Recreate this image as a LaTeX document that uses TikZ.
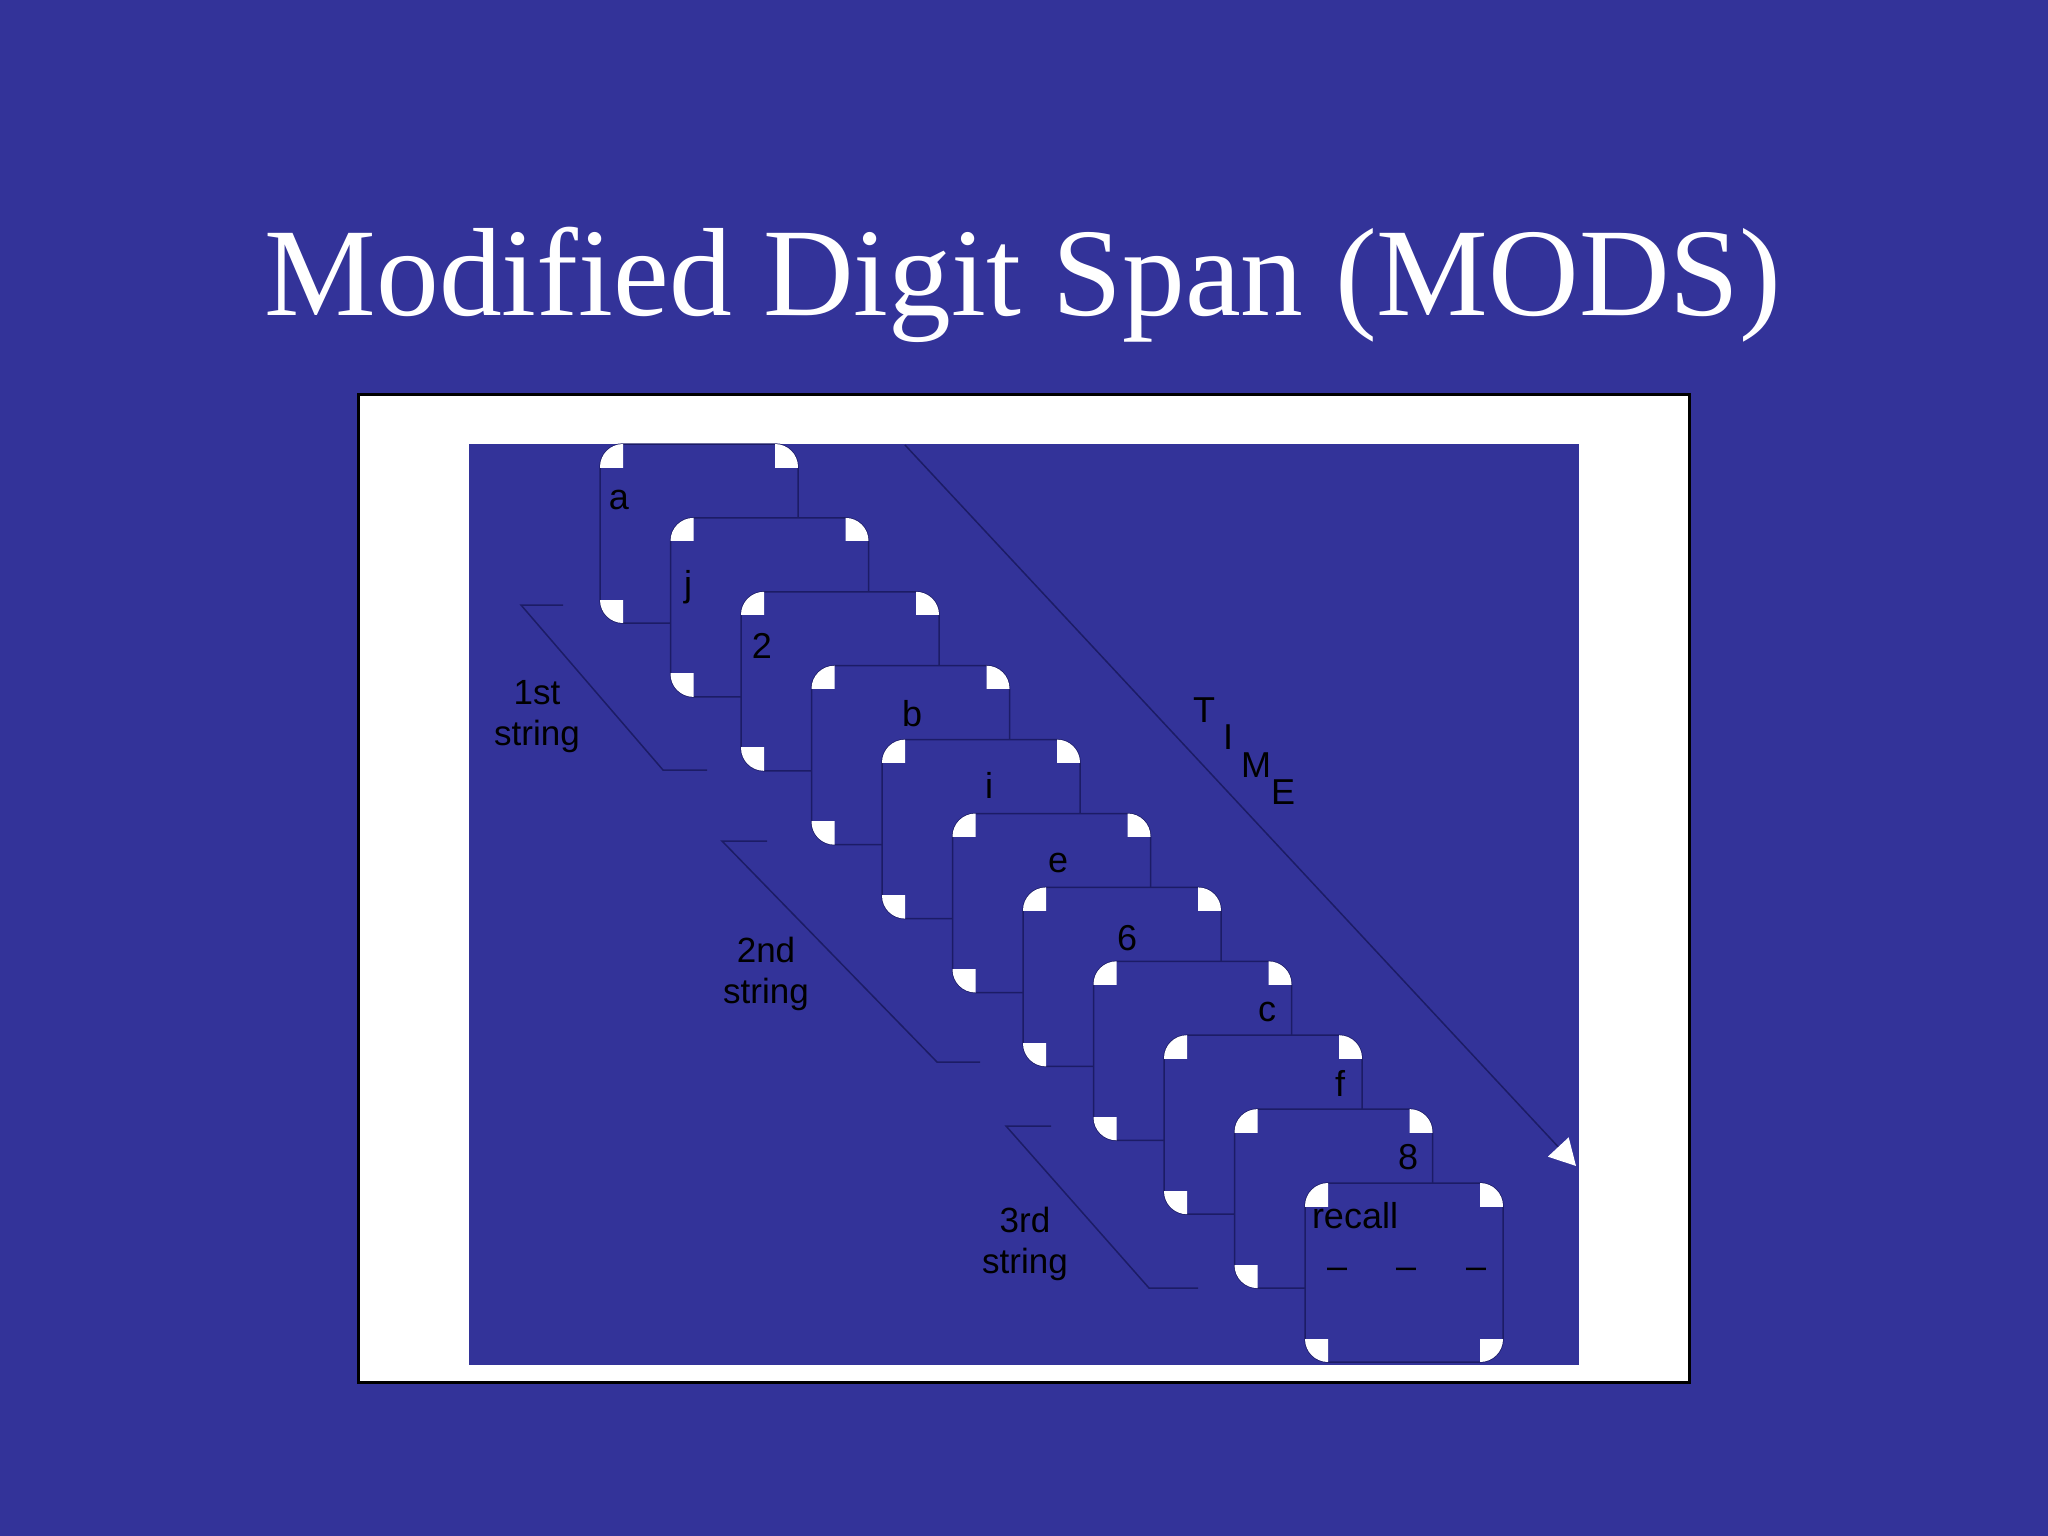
\documentclass[tikz,border=0pt]{standalone}
\usepackage{fontspec}
\setmainfont{Liberation Serif}
\newfontfamily\arialfont{Liberation Sans}
\usetikzlibrary{arrows.meta}
\definecolor{slideblue}{HTML}{333399}
\definecolor{edgenavy}{HTML}{1C1C66}
\tikzset{
  cardbox/.style={draw=edgenavy, line width=1.5pt, fill=slideblue, rounded corners=23pt},
  thinline/.style={draw=edgenavy, line width=1.5pt},
  lbl/.style={font=\arialfont\fontsize{36}{40}\selectfont, text=black, inner sep=0pt, anchor=base},
  strlbl/.style={font=\arialfont\fontsize{35}{41}\selectfont, text=black, inner sep=0pt, align=center},
  titlestyle/.style={font=\fontsize{125.5}{140}\selectfont, text=white, inner sep=0pt, anchor=base}
}
\begin{document}
\begin{tikzpicture}[x=1pt,y=-1pt]
\useasboundingbox (0,0) rectangle (2048,1536);
\fill[slideblue] (0,0) rectangle (2048,1536);
% title
\node[titlestyle] (title) at (1023,315) {Modified Digit Span (MODS)};
% white frame and inner panel
\draw[fill=white, draw=black, line width=3pt] (358,394) rectangle (1689,1382);
\fill[slideblue] (469,444) rectangle (1579,1365);
% string brackets
\draw[thinline] (563,605) -- (521,605) -- (663,770) -- (707,770);
\draw[thinline] (767,841) -- (722,841) -- (937,1062) -- (980,1062);
\draw[thinline] (1051,1126) -- (1006,1126) -- (1149,1288) -- (1198,1288);
% TIME arrow
\coordinate (tstart) at (905,445);
\coordinate (tend) at (1576,1166);
\draw[thinline, -{Triangle[length=26pt,width=28pt,color=white]}] (tstart) -- (tend);
% cards
\foreach \i in {0,...,10} {
  \pgfmathsetmacro\cx{600+70.5*\i}
  \pgfmathsetmacro\cy{444+73.9*\i}
  \draw[cardbox] (\cx,\cy) rectangle ++(198,179);
  \begin{scope}
    \clip (\cx,\cy) rectangle ++(23,23);
    \fill[white] (\cx+23,\cy+23) circle (23);
  \end{scope}
  \begin{scope}
    \clip (\cx+175,\cy) rectangle ++(23,23);
    \fill[white] (\cx+175,\cy+23) circle (23);
  \end{scope}
  \begin{scope}
    \clip (\cx,\cy+156) rectangle ++(23,23);
    \fill[white] (\cx+23,\cy+156) circle (23);
  \end{scope}
  \begin{scope}
    \clip (\cx+175,\cy+156) rectangle ++(23,23);
    \fill[white] (\cx+175,\cy+156) circle (23);
  \end{scope}
  % labels drawn right after each card so that later cards cover them
  \ifcase\i
    \node[lbl] (la) at (619,509) {a};
  \or
    \node[lbl] (lj) at (688,596) {j};
  \or
    \node[lbl] (l2) at (762,658) {2};
  \or
    \node[lbl] (lb) at (912,726) {b};
  \or
    \node[lbl] (li) at (989,798) {i};
  \or
    \node[lbl] (le) at (1058,872) {e};
  \or
    \node[lbl] (l6) at (1127,950) {6};
  \or
    \node[lbl] (lc) at (1267,1021) {c};
  \or
    \node[lbl] (lf) at (1340,1096) {f};
  \or
    \node[lbl] (l8) at (1408,1169) {8};
  \or
    \node[lbl] (lrecall) at (1355,1228) {recall};
    \node[lbl] (d1) at (1337,1278) {–};
    \node[lbl] (d2) at (1406,1278) {–};
    \node[lbl] (d3) at (1476,1278) {–};
  \fi
}
% TIME letters
\node[lbl] (tT) at (1204,722) {T};
\node[lbl] (tI) at (1228,749) {I};
\node[lbl] (tM) at (1256,777) {M};
\node[lbl] (tE) at (1283,804) {E};
% string labels (base = baseline of the last line)
\node[strlbl, anchor=base] (s1) at (537,745) {1st\\string};
\node[strlbl, anchor=base] (s2) at (766,1003) {2nd\\string};
\node[strlbl, anchor=base] (s3) at (1025,1273) {3rd\\string};
\end{tikzpicture}
\end{document}
